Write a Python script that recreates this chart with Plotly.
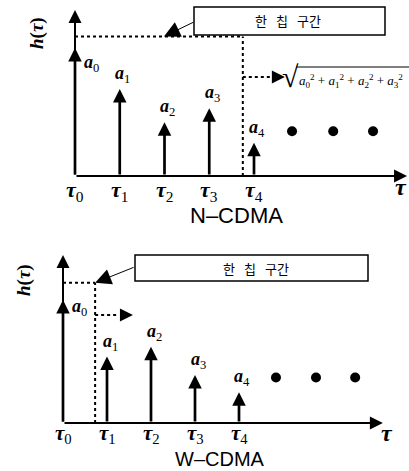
import plotly.graph_objects as go

W, H = 409, 471

# ---------------- data ----------------
taus = [0, 1, 2, 3, 4]
tau_names = ["0", "1", "2", "3", "4"]
n_cdma_amp = [1.00, 0.68, 0.42, 0.53, 0.26]
w_cdma_amp = [1.00, 0.54, 0.62, 0.39, 0.25]
n_tail_tau = [4.85, 5.77, 6.66]
n_tail_level = [0.35, 0.35, 0.35]
w_tail_tau = [4.84, 5.75, 6.64]
w_tail_level = [0.37, 0.37, 0.37]
n_chip_width = 3.75      # one chip interval, in tau units
n_chip_level = 1.09
w_chip_width = 0.73
w_chip_level = 1.14
chip_text = "한\u2002\u2009칩\u2002\u2009구간"
panel_titles = ["N\u2013CDMA", "W\u2013CDMA"]

# ---------------- layout helpers (pixel geometry) ----------------
def px(x):
    return x / W

def py(y):
    return 1 - y / H

SPLIT = 235.5  # pixel row separating the two panels
# panel geometry: origin pixel and pixels per unit
top = dict(ox=75, oy=176, sx=44.75, sy=128)
bot = dict(ox=63, oy=423, sx=44.0, sy=123)

def xr(g):
    return [-g["ox"] / g["sx"], (W - g["ox"]) / g["sx"]]

def yr(g, ptop, pbot):
    return [(g["oy"] - pbot) / g["sy"], (g["oy"] - ptop) / g["sy"]]

SERIF = "Liberation Serif"
SANS = "Liberation Sans"

fig = go.Figure()
fig.add_trace(go.Scatter(x=n_tail_tau, y=n_tail_level, mode="markers",
                         marker=dict(size=10, color="black"),
                         xaxis="x", yaxis="y", hoverinfo="skip"))
fig.add_trace(go.Scatter(x=w_tail_tau, y=w_tail_level, mode="markers",
                         marker=dict(size=10, color="black"),
                         xaxis="x2", yaxis="y2", hoverinfo="skip"))

annotations = []
shapes = []

def arrow(xref, yref, x, y, ax, ay, width=2.6, size=1.0, head=2):
    return dict(x=x, y=y, ax=ax, ay=ay, xref=xref, yref=yref, axref=xref, ayref=yref,
                showarrow=True, arrowhead=head, arrowsize=size, arrowwidth=width,
                arrowcolor="black", text="", standoff=0, startstandoff=0)

def note(x, y, text, size, family, xref="paper", yref="paper", xanchor="center",
         yanchor="middle", **kw):
    d = dict(x=x, y=y, xref=xref, yref=yref, text=text, showarrow=False,
             xanchor=xanchor, yanchor=yanchor,
             font=dict(family=family, size=size, color="black"))
    d.update(kw)
    return d

def a_label(i):
    return "<b><i>a</i></b><sub>%s</sub>" % tau_names[i]

def tau_label(i):
    return "<b><i>τ</i></b><sub>%s</sub>" % tau_names[i]

panels = [
    dict(xr="x", yr="y", amp=n_cdma_amp, g=top, chipw=n_chip_width, chipl=n_chip_level,
         yend=1.297, xend=7.42, dash_y=0.773, dash_tip=4.69, ptr_frac=0.53,
         box=(194, 7, 385, 35), boxtext=(288, 21), ptr=(31, -15),
         title=(237, 215, 22), hlab=(37, 33), taulab=(191, 22), tau_end=(401, 187)),
    dict(xr="x2", yr="y2", amp=w_cdma_amp, g=bot, chipw=w_chip_width, chipl=w_chip_level,
         yend=1.366, xend=7.27, dash_y=0.878, dash_tip=1.59, ptr_frac=1.0,
         box=(135, 255, 368, 281), boxtext=(256, 268), ptr=(40, -16),
         title=(220, 459, 20), hlab=(24, 280), taulab=(434, 21), tau_end=(387, 433)),
]

for k, p in enumerate(panels):
    xa, ya = p["xr"], p["yr"]
    g = p["g"]
    # axes with arrows
    annotations.append(arrow(xa, ya, 0, p["yend"], 0, 0, width=2, size=1.3))
    annotations.append(arrow(xa, ya, p["xend"], 0, 0, 0, width=2, size=1.3))
    # stems
    ty_lab, ts_lab = p["taulab"]
    for i, t in enumerate(taus):
        annotations.append(arrow(xa, ya, t, p["amp"][i], t, 0, width=2.7, size=1.0))
        annotations.append(note(t, py(ty_lab), tau_label(i), ts_lab, SERIF, xref=xa))
        if i == 0:
            annotations.append(note(t, p["amp"][i], a_label(i), 18, SERIF, xref=xa, yref=ya,
                                    xanchor="left", yanchor="top", xshift=7,
                                    yshift=(-2 if k == 0 else 6)))
        else:
            annotations.append(note(t, p["amp"][i], a_label(i), 18, SERIF, xref=xa, yref=ya,
                                    yanchor="bottom", xshift=3, yshift=1))
    # chip interval dashed lines
    dot = dict(color="black", width=2, dash="dot")
    shapes.append(dict(type="line", xref=xa, yref=ya, x0=0, x1=p["chipw"],
                       y0=p["chipl"], y1=p["chipl"], line=dot))
    shapes.append(dict(type="line", xref=xa, yref=ya, x0=p["chipw"], x1=p["chipw"],
                       y0=0, y1=p["chipl"], line=dot))
    # dashed arrow to the right
    head_len = 14 / g["sx"]
    shapes.append(dict(type="line", xref=xa, yref=ya, x0=p["chipw"], x1=p["dash_tip"] - head_len,
                       y0=p["dash_y"], y1=p["dash_y"], line=dot))
    annotations.append(arrow(xa, ya, p["dash_tip"], p["dash_y"], p["dash_tip"] - head_len,
                             p["dash_y"], width=2, size=1.3))
    # box with label and pointer arrow
    bx0, by0, bx1, by1 = p["box"]
    shapes.append(dict(type="rect", xref="paper", yref="paper", x0=px(bx0), x1=px(bx1),
                       y0=py(by1), y1=py(by0), line=dict(color="black", width=1.5),
                       fillcolor="white"))
    annotations.append(note(px(p["boxtext"][0]), py(p["boxtext"][1]), chip_text, 13,
                            "Noto Sans CJK KR"))
    annotations.append(dict(x=p["ptr_frac"] * p["chipw"], y=p["chipl"], xref=xa, yref=ya,
                            ax=p["ptr"][0], ay=p["ptr"][1],
                            showarrow=True, arrowhead=2, arrowsize=3.2, arrowwidth=1,
                            arrowcolor="black", text="", standoff=0))
    tx, ty, tsize = p["title"]
    annotations.append(note(px(tx), py(ty), panel_titles[k], tsize, SANS))
    annotations.append(note(px(p["hlab"][0]), py(p["hlab"][1]), "<b><i>h</i>(<i>τ</i>)</b>",
                            19, SERIF, textangle=-90))
    annotations.append(note(px(p["tau_end"][0]), py(p["tau_end"][1]), "<b><i>τ</i></b>",
                            24, SERIF))

# sqrt expression (N-CDMA power sum)
annotations.append(note(px(290), py(77), "√", 30, SERIF))
shapes.append(dict(type="line", xref="paper", yref="paper", x0=px(296), x1=px(409),
                   y0=py(67), y1=py(67), line=dict(color="black", width=1.2)))
annotations.append(note(px(297), py(81),
                        "<i>a</i><sub>0</sub><sup>2</sup> + <i>a</i><sub>1</sub><sup>2</sup> + "
                        "<i>a</i><sub>2</sub><sup>2</sup> + <i>a</i><sub>3</sub><sup>2</sup>",
                        13, SERIF, xanchor="left"))

fig.update_layout(
    width=W, height=H, margin=dict(l=0, r=0, t=0, b=0),
    paper_bgcolor="white", plot_bgcolor="white", showlegend=False,
    xaxis=dict(domain=[0, 1], range=xr(top), visible=False, anchor="y"),
    yaxis=dict(domain=[1 - SPLIT / H, 1], range=yr(top, 0, SPLIT), visible=False, anchor="x"),
    xaxis2=dict(domain=[0, 1], range=xr(bot), visible=False, anchor="y2"),
    yaxis2=dict(domain=[0, 1 - SPLIT / H], range=yr(bot, SPLIT, H), visible=False, anchor="x2"),
    annotations=annotations, shapes=shapes,
)

fig.write_html("out.html", config={"displayModeBar": False},
               post_script="document.body.style.margin='0';document.body.style.overflow='hidden';")
